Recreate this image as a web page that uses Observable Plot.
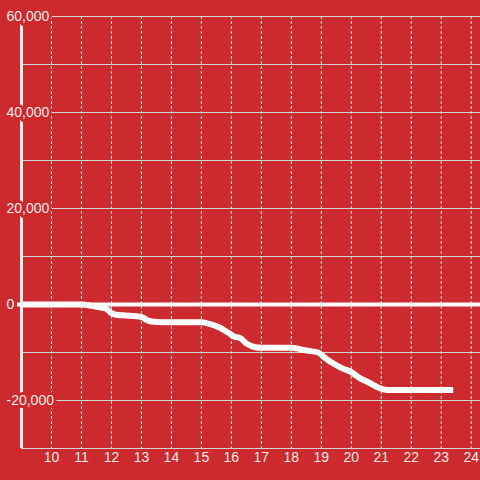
<!DOCTYPE html>
<html>
<head>
<meta charset="utf-8">
<script src="https://cdn.jsdelivr.net/npm/d3@7"></script>
<script src="https://cdn.jsdelivr.net/npm/@observablehq/plot@0.6"></script>
<style>
  html, body { margin: 0; padding: 0; background: #cc2a2e; }
</style>
</head>
<body>
<div id="chart"></div>
<script>
const hours  = [9, 11, 11.5, 11.8, 12.0, 12.2, 12.5, 13.0, 13.2, 13.4, 13.7, 15.0, 15.3, 15.6, 15.9, 16.1, 16.3, 16.5, 16.8, 17.0, 18.0, 18.5, 18.9, 19.1, 19.4, 19.7, 20.0, 20.3, 20.6, 20.9, 21.2, 23.4];
const values = [0, 0, -500, -800, -1800, -2200, -2300, -2600, -3300, -3600, -3700, -3700, -4100, -4800, -5900, -6700, -7000, -8100, -8900, -9000, -9000, -9600, -10000, -11000, -12300, -13300, -14100, -15400, -16300, -17300, -17800, -17800];
const xTicks = [10, 11, 12, 13, 14, 15, 16, 17, 18, 19, 20, 21, 22, 23, 24];
const yLabels = [60000, 40000, 20000, 0, -20000];
const yGrid = [60000, 50000, 40000, 30000, 20000, 10000, -10000, -20000, -30000];

const data = hours.map((h, i) => ({hour: h, value: values[i]}));
const bg = "#cc2a2e";
const txt = "#f7eaea";

const chart = Plot.plot({
  width: 480,
  height: 480,
  marginTop: 16,
  marginBottom: 32,
  marginLeft: 21,
  marginRight: 0,
  x: {domain: [9, 24.31], axis: null},
  y: {domain: [-30000, 60000], axis: null},
  style: {background: bg, fontFamily: "'Liberation Sans', Arial, sans-serif", fontSize: "14px"},
  marks: [
    Plot.ruleY(yGrid, {stroke: "#d4d4d4", strokeWidth: 1}),
    Plot.ruleX(xTicks, {stroke: "#e8e8e8", strokeWidth: 1, strokeDasharray: "3,2"}),
    Plot.ruleX([9], {stroke: "#f2f2f2", strokeWidth: 3}),
    Plot.ruleY([0], {stroke: "white", strokeWidth: 4, insetLeft: -4}),
    Plot.line(data, {x: "hour", y: "value", stroke: "white", strokeWidth: 6, strokeLinecap: "butt", curve: "monotone-x"}),
    Plot.text(yLabels, {x: 9, y: d => d, text: d => d.toLocaleString("en-US"), textAnchor: "start", dx: -15, fill: txt, stroke: bg, strokeWidth: 6}),
    Plot.text(xTicks, {x: d => d, frameAnchor: "bottom", dy: 13, text: d => String(d), fill: txt})
  ]
});
document.getElementById("chart").appendChild(chart);
</script>
</body>
</html>
